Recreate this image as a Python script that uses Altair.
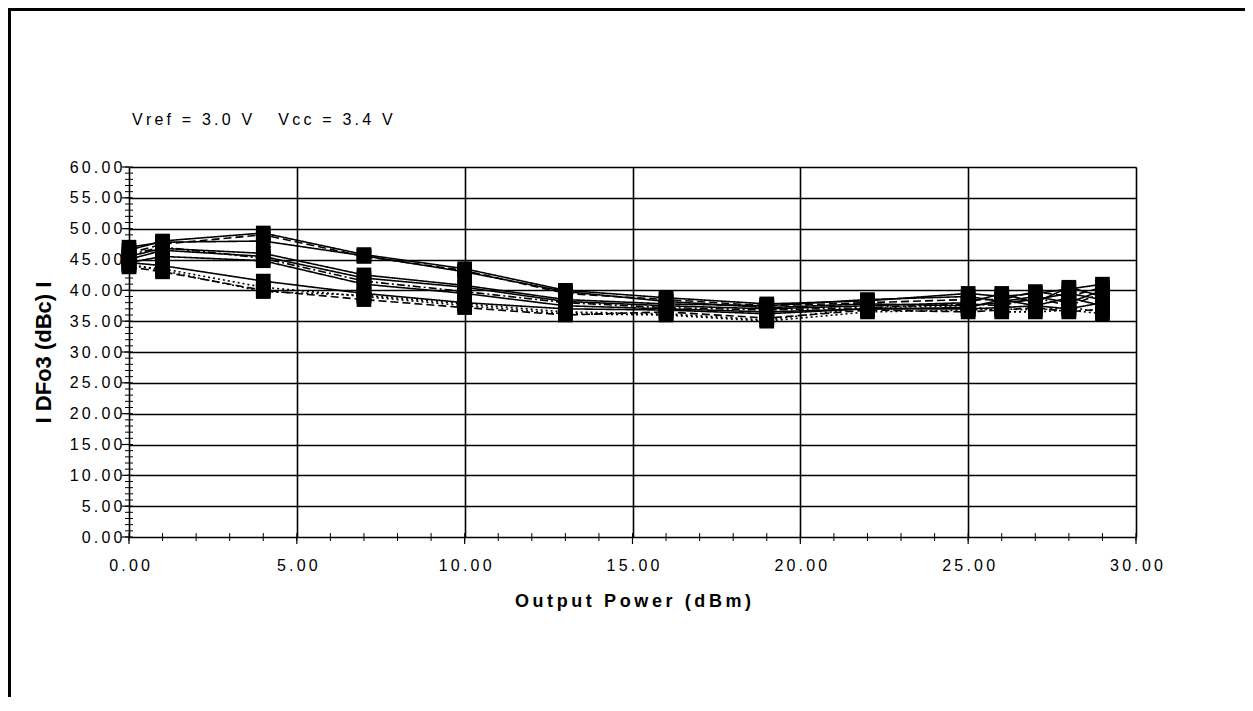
import altair as alt
import pandas as pd

# Output power (dBm) sample points
x_vals = [0, 1, 4, 7, 10, 13, 16, 19, 22, 25, 26, 27, 28, 29]

series_names = ["S1", "S2", "S3", "S4", "S5", "S6", "S7", "S8", "S9", "S10", "S11"]
series_styles = ["solid", "dashed", "solid", "solid", "solid", "dashdot", "solid",
                 "solid", "dotted", "dashed", "dotted"]

s1 = [46.5, 48.0, 49.3, 45.8, 43.5, 40.0, 38.8, 37.8, 38.3, 39.5, 39.0, 39.5, 40.2, 41.0]
s2 = [46.0, 47.5, 49.0, 45.5, 43.2, 39.5, 38.5, 37.5, 38.0, 38.5, 38.5, 39.8, 39.0, 40.5]
s3 = [47.0, 47.8, 48.0, 45.6, 43.0, 39.8, 38.2, 37.2, 37.8, 37.5, 38.0, 38.5, 39.5, 38.5]
s4 = [45.5, 46.8, 46.0, 42.5, 40.8, 38.5, 37.8, 37.5, 38.5, 39.0, 38.2, 39.0, 38.0, 40.0]
s5 = [45.0, 46.5, 45.5, 42.0, 40.5, 38.2, 37.5, 37.0, 37.5, 38.0, 39.5, 38.0, 40.5, 39.0]
s6 = [45.8, 47.0, 45.2, 41.5, 39.8, 38.0, 37.2, 36.8, 37.2, 37.8, 37.5, 38.8, 37.5, 39.5]
s7 = [44.5, 45.5, 44.8, 41.0, 39.5, 37.5, 37.0, 36.5, 37.0, 37.2, 38.5, 37.5, 38.8, 37.5]
s8 = [44.5, 44.0, 41.5, 39.5, 38.0, 37.0, 36.8, 36.2, 37.0, 37.0, 37.2, 37.5, 37.0, 38.0]
s9 = [44.0, 43.5, 40.5, 39.0, 37.5, 36.2, 36.0, 35.0, 36.5, 36.8, 37.0, 36.8, 37.2, 36.5]
s10 = [43.8, 43.0, 40.0, 38.5, 37.2, 36.0, 36.5, 35.5, 36.8, 36.5, 36.8, 37.2, 36.5, 37.0]
s11 = [44.2, 43.2, 39.8, 39.2, 37.8, 36.5, 36.2, 35.2, 37.2, 37.5, 36.5, 36.5, 36.8, 36.2]
all_series = [s1, s2, s3, s4, s5, s6, s7, s8, s9, s10, s11]

y_minor = list(range(0, 61))
x_minor = list(range(0, 31))
x_major = [0, 5, 10, 15, 20, 25, 30]
y_major = list(range(0, 61, 5))

annotation = "Vref = 3.0 V   Vcc = 3.4 V"
x_title = "Output Power (dBm)"
y_title = "I DFo3 (dBc) I"

FONT = "Liberation Sans"
W, H = 1007, 370

rows = []
for name, style, vals in zip(series_names, series_styles, all_series):
    for xv, yv in zip(x_vals, vals):
        rows.append({"series": name, "style": style, "power": xv, "dfo3": yv})
df = pd.DataFrame(rows)

def spaced(s):
    return "\u2009".join(list(s))

xscale = alt.Scale(domain=[0, 30], nice=False, zero=False)
yscale = alt.Scale(domain=[0, 60], nice=False)

spread_expr = "replace(format(datum.value, '.2f'), regexp('(.)(?!$)', 'g'), '$1\u2009')"

xaxis = alt.Axis(values=x_major, labelExpr=spread_expr,
                 labelFlush=False, labelOverlap=False,
                 grid=True, gridColor="black", gridWidth=1.6, gridOpacity=1,
                 ticks=False, domain=False,
                 labelFont=FONT, labelFontSize=16, labelColor="black",
                 labelPadding=20,
                 title=spaced(x_title), titleFont=FONT, titleFontSize=18,
                 titleFontWeight="bold", titleColor="black",
                 titleY=64, titleBaseline="middle")
yaxis = alt.Axis(values=y_major, labelExpr=spread_expr,
                 labelFlush=False, labelOverlap=False,
                 grid=True, gridColor="black", gridWidth=1.6, gridOpacity=1,
                 ticks=False, domain=False,
                 labelFont=FONT, labelFontSize=16, labelColor="black",
                 labelPadding=7, labelBaseline="middle",
                 title=y_title, titleFont=FONT, titleFontSize=22,
                 titleFontWeight="bold", titleColor="black",
                 titleX=-86, titleY=H / 2, titleAngle=-90,
                 titleAlign="center", titleBaseline="middle")

base = alt.Chart(df)

lines = base.mark_line(color="black", strokeWidth=1.6).encode(
    x=alt.X("power:Q", scale=xscale, axis=xaxis),
    y=alt.Y("dfo3:Q", scale=yscale, axis=yaxis),
    detail="series:N",
    strokeDash=alt.StrokeDash("style:N",
                              scale=alt.Scale(domain=["solid", "dashed", "dotted", "dashdot"],
                                              range=[[1, 0], [8, 4], [2, 3], [8, 3, 2, 3]]),
                              legend=None),
)

points = base.mark_point(shape="square", filled=True, color="black", opacity=1, size=215).encode(
    x=alt.X("power:Q", scale=xscale, axis=xaxis),
    y=alt.Y("dfo3:Q", scale=yscale, axis=yaxis),
)

yticks = alt.Chart(pd.DataFrame({"power": [0] * len(y_minor), "dfo3": y_minor})).mark_rule(
    color="black", strokeWidth=1).encode(
    y=alt.Y("dfo3:Q", scale=yscale, axis=yaxis),
    x=alt.value(-4),
    x2=alt.value(4),
)
ymaj = alt.Chart(pd.DataFrame({"dfo3": y_major})).mark_rule(color="black", strokeWidth=1.2).encode(
    y=alt.Y("dfo3:Q", scale=yscale, axis=yaxis),
    x=alt.value(-7),
    x2=alt.value(0),
)

xticks = alt.Chart(pd.DataFrame({"power": x_minor})).mark_rule(color="black", strokeWidth=1).encode(
    x=alt.X("power:Q", scale=xscale, axis=xaxis),
    y=alt.value(H - 4),
    y2=alt.value(H + 4),
)
xmaj = alt.Chart(pd.DataFrame({"power": x_major})).mark_rule(color="black", strokeWidth=1.2).encode(
    x=alt.X("power:Q", scale=xscale, axis=xaxis),
    y=alt.value(H),
    y2=alt.value(H + 7),
)

note = alt.Chart(pd.DataFrame({"t": [spaced(annotation)]})).mark_text(
    align="left", baseline="middle", font=FONT, fontSize=16, color="black"
).encode(x=alt.value(3), y=alt.value(-47), text="t:N")

frame = alt.Chart(pd.DataFrame({"a": [0]})).mark_rect(
    fill=None, stroke="black", strokeWidth=3
).encode(x=alt.value(-119.5), x2=alt.value(3000), y=alt.value(-157.5), y2=alt.value(3000))

chart = alt.layer(frame, lines, points, yticks, ymaj, xticks, xmaj, note).properties(
    width=W, height=H,
    autosize=alt.AutoSizeParams(type="none"),
    padding={"left": 121, "top": 159, "right": 109, "bottom": 160},
).configure_view(stroke="black", strokeWidth=1.6).configure(background="white")

chart.save("out.html", embed_options={"renderer": "svg", "actions": False})
